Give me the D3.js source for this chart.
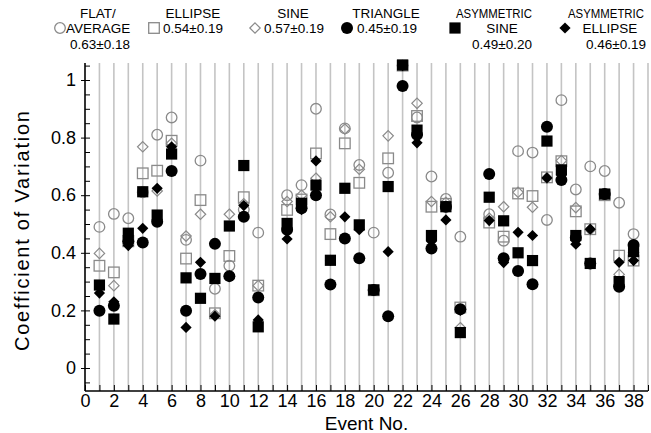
<!DOCTYPE html>
<html>
<head>
<meta charset="utf-8">
<script src="https://cdn.jsdelivr.net/npm/d3@7/dist/d3.min.js"></script>
<style>
  html, body { margin: 0; padding: 0; background: #fff; }
  svg { display: block; font-family: "Liberation Sans", Arial, Helvetica, sans-serif; }
</style>
</head>
<body>
<svg id="chart" width="651" height="433"></svg>
<script>
// Event numbers (13 and 27 have no data)
const events = [1,2,3,4,5,6,7,8,9,10,11,12,14,15,16,17,18,19,20,21,22,23,24,25,26,28,29,30,31,32,33,34,35,36,37,38];

// Coefficient of variation per event, one array per waveform
const flatAverage = [0.49,0.535,0.52,0.61,0.81,0.87,0.445,0.72,0.275,0.355,0.55,0.47,0.60,0.635,0.90,0.533,0.832,0.705,0.47,0.678,1.05,0.87,0.665,0.587,0.456,0.534,0.442,0.753,0.748,0.514,0.93,0.62,0.70,0.684,0.574,0.465];
const ellipse     = [0.355,0.332,0.44,0.676,0.685,0.789,0.38,0.583,0.19,0.389,0.593,0.286,0.549,0.585,0.745,0.465,0.78,0.643,0.27,0.728,1.05,0.875,0.56,0.57,0.21,0.505,0.456,0.606,0.597,0.662,0.718,0.544,0.482,0.60,0.39,0.373];
const sine        = [0.398,0.286,0.46,0.768,0.615,0.78,0.458,0.534,0.185,0.534,0.57,0.286,0.578,0.60,0.659,0.525,0.83,0.69,0.27,0.806,1.05,0.919,0.578,0.575,0.14,0.52,0.56,0.61,0.558,0.66,0.72,0.557,0.48,0.60,0.325,0.40];
const triangle    = [0.199,0.216,0.44,0.436,0.508,0.684,0.199,0.326,0.431,0.319,0.525,0.245,0.48,0.555,0.60,0.29,0.45,0.381,0.271,0.18,0.979,0.81,0.415,0.56,0.204,0.674,0.381,0.337,0.291,0.838,0.653,0.452,0.363,0.604,0.282,0.427];
const asymSine    = [0.288,0.17,0.468,0.612,0.531,0.743,0.313,0.242,0.311,0.493,0.703,0.143,0.502,0.572,0.635,0.374,0.624,0.497,0.271,0.63,1.052,0.826,0.46,0.56,0.123,0.593,0.511,0.40,0.373,0.788,0.688,0.46,0.363,0.604,0.30,0.404];
const asymEllipse = [0.26,0.23,0.425,0.485,0.624,0.768,0.141,0.367,0.18,0.32,0.564,0.167,0.448,0.55,0.719,0.374,0.525,0.48,0.271,0.404,1.05,0.782,0.44,0.514,0.2,0.512,0.366,0.471,0.46,0.66,0.67,0.43,0.482,0.604,0.367,0.373];

// Legend text: name lines and mean ± sd
const legendNames = [["FLAT/", "AVERAGE"], ["ELLIPSE"], ["SINE"], ["TRIANGLE"], ["ASYMMETRIC", "SINE"], ["ASYMMETRIC", "ELLIPSE"]];
const legendStats = ["0.63±0.18", "0.54±0.19", "0.57±0.19", "0.45±0.19", "0.49±0.20", "0.46±0.19"];

// Axis ticks
const xTickValues = d3.range(0, 40);
const yMajorTicks = [0, 0.2, 0.4, 0.6, 0.8, 1];
const yMinorTicks = d3.range(-0.05, 1.06, 0.05).map(v => +v.toFixed(2));

const svg = d3.select("#chart");

const x = d3.scaleLinear().domain([0, 39]).range([85, 648]);
const y = d3.scaleLinear().domain([0, 1]).range([368, 80]);
const yBottom = 391, yTop = 63;

const GRAY = "#8a8a8a";

// symbol drawing helpers
function drawSymbol(g, kind, cx, cy) {
  if (kind === "oc") {
    g.append("circle").attr("cx", cx).attr("cy", cy).attr("r", 5.3)
      .attr("fill", "none").attr("stroke", GRAY).attr("stroke-width", 1.3);
  } else if (kind === "os") {
    g.append("rect").attr("x", cx - 5.3).attr("y", cy - 5.3).attr("width", 10.6).attr("height", 10.6)
      .attr("fill", "none").attr("stroke", GRAY).attr("stroke-width", 1.3);
  } else if (kind === "od") {
    const r = 5.2;
    g.append("path").attr("d", `M${cx},${cy - r}L${cx + r},${cy}L${cx},${cy + r}L${cx - r},${cy}Z`)
      .attr("fill", "none").attr("stroke", GRAY).attr("stroke-width", 1.2);
  } else if (kind === "fc") {
    g.append("circle").attr("cx", cx).attr("cy", cy).attr("r", 6).attr("fill", "#000");
  } else if (kind === "fs") {
    g.append("rect").attr("x", cx - 5.6).attr("y", cy - 5.6).attr("width", 11.2).attr("height", 11.2).attr("fill", "#000");
  } else if (kind === "fd") {
    const r = 5.6;
    g.append("path").attr("d", `M${cx},${cy - r}L${cx + r},${cy}L${cx},${cy + r}L${cx - r},${cy}Z`).attr("fill", "#000");
  }
}

// vertical grid lines at every event number
svg.append("g").selectAll("line")
  .data(d3.range(1, 40))
  .join("line")
  .attr("x1", d => x(d)).attr("x2", d => x(d))
  .attr("y1", yTop).attr("y2", yBottom)
  .attr("stroke", "#c4c4c4").attr("stroke-width", 1.6);

// x axis
const xAxis = svg.append("g").attr("transform", `translate(0,${yBottom})`)
  .call(d3.axisBottom(x).tickValues(xTickValues).tickSizeInner(-6).tickSizeOuter(0)
    .tickPadding(3).tickFormat(d => (d % 2 === 0 && d <= 38) ? d : ""));
xAxis.select(".domain").attr("stroke", "#000").attr("stroke-width", 1.6).attr("d", `M85,0H648`);
xAxis.selectAll(".tick line").attr("stroke", "#000").attr("stroke-width", 1);
xAxis.selectAll("text").attr("font-size", 18).attr("fill", "#000");

// y axis: minor ticks inside, major ticks with labels
const yMinor = svg.append("g").attr("transform", `translate(85,0)`)
  .call(d3.axisLeft(y).tickValues(yMinorTicks).tickSize(-5).tickFormat(""));
yMinor.select(".domain").remove();
yMinor.selectAll(".tick line").attr("stroke", "#000").attr("stroke-width", 1);

const yMajor = svg.append("g").attr("transform", `translate(85,0)`)
  .call(d3.axisLeft(y).tickValues(yMajorTicks).tickSizeInner(4).tickSizeOuter(0).tickPadding(5)
    .tickFormat(d3.format("~g")));
yMajor.select(".domain").attr("stroke", "#000").attr("stroke-width", 1.6).attr("d", `M0,${yTop}V${yBottom}`);
yMajor.selectAll(".tick line").attr("stroke", "#000").attr("stroke-width", 1);
yMajor.selectAll("text").attr("font-size", 18).attr("fill", "#000");

// axis titles
svg.append("text").attr("x", (85 + 648) / 2).attr("y", 430).attr("text-anchor", "middle")
  .attr("font-size", 19).text("Event No.");
svg.append("text").attr("transform", `translate(29,${(yTop + yBottom) / 2 + 4}) rotate(-90)`)
  .attr("text-anchor", "middle").attr("font-size", 20)
  .attr("textLength", 240).attr("lengthAdjust", "spacing")
  .text("Coefficient of Variation");

// markers
const series = [
  { values: flatAverage, kind: "oc" },
  { values: ellipse, kind: "os" },
  { values: sine, kind: "od" },
  { values: triangle, kind: "fc" },
  { values: asymSine, kind: "fs" },
  { values: asymEllipse, kind: "fd" }
];
const markG = svg.append("g");
series.forEach(s => {
  const g = markG.append("g");
  events.forEach((e, i) => drawSymbol(g, s.kind, x(e), y(s.values[i])));
});

// legend
const lg = svg.append("g").attr("font-size", 13.5).attr("fill", "#000");
const L1 = 18, L2 = 33, L3 = 49;
function txt(xp, yp, t, anchor, len, size) {
  const el = lg.append("text").attr("x", xp).attr("y", yp).attr("text-anchor", anchor || "middle").text(t);
  if (len) el.attr("textLength", len).attr("lengthAdjust", "spacingAndGlyphs");
  if (size) el.attr("font-size", size);
  return el;
}
// flat / average
txt(98, L1, legendNames[0][0]);
drawSymbol(lg, "oc", 60, L2 - 5);
txt(66, L2, legendNames[0][1], "start");
txt(100, L3, legendStats[0]);
// ellipse
txt(193, L1, legendNames[1][0]);
drawSymbol(lg, "os", 154, L2 - 5);
txt(163, L2, legendStats[1], "start");
// sine
txt(293, L1, legendNames[2][0]);
drawSymbol(lg, "od", 255, L2 - 5);
txt(264, L2, legendStats[2], "start");
// triangle
txt(386, L1, legendNames[3][0]);
drawSymbol(lg, "fc", 347, L2 - 5);
txt(357, L2, legendStats[3], "start");
// asymmetric sine
txt(456, L1, legendNames[4][0], "start", 76);
drawSymbol(lg, "fs", 455, L2 - 5);
txt(502, L2, legendNames[4][1]);
txt(502, L3, legendStats[4]);
// asymmetric ellipse
txt(568, L1, legendNames[5][0], "start", 76, 12.5);
drawSymbol(lg, "fd", 565, L2 - 5);
txt(610, L2, legendNames[5][1]);
txt(616, L3, legendStats[5]);
</script>
</body>
</html>
